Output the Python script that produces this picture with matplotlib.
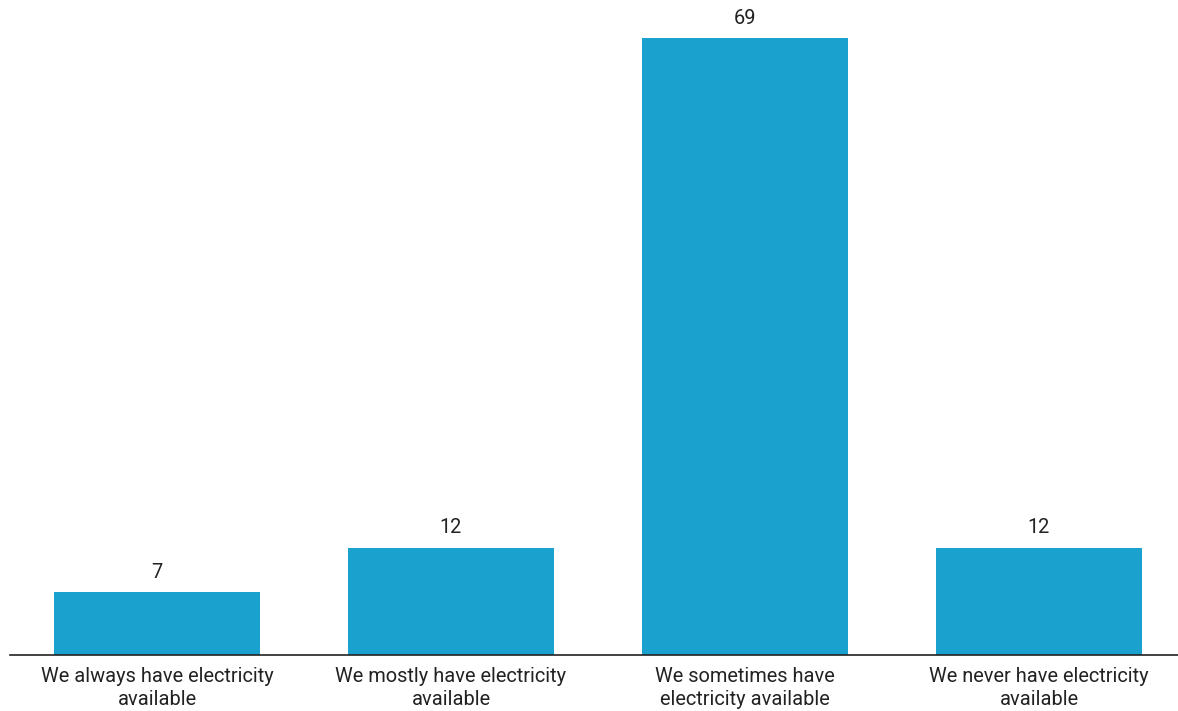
import matplotlib
matplotlib.use('Agg')
import matplotlib.pyplot as plt

categories = ['We always have electricity\navailable',
              'We mostly have electricity\navailable',
              'We sometimes have\nelectricity available',
              'We never have electricity\navailable']
values = [7, 12, 69, 12]

plt.rcParams['font.family'] = ['Roboto', 'DejaVu Sans']

fig = plt.figure(figsize=(11.78, 7.11), dpi=100)
ax = fig.add_axes([10 / 1178, 56 / 711, 1168 / 1178, 655 / 711])

x = list(range(len(values)))
bars = ax.bar(x, values, width=0.70, color='#1aa1ce')

# value labels above the bars
for xi, v in zip(x, values):
    ax.text(xi, v + 1.2, str(v), ha='center', va='bottom', fontsize=14.4, color='#222222')

ax.set_xlim(-0.5, 3.473)
ax.set_ylim(0, 73.3)
ax.set_xticks(x)
ax.set_xticklabels(categories, fontsize=14.4, color='#222222', linespacing=1.25)
ax.tick_params(axis='x', length=0, pad=9)
ax.set_yticks([])
for side in ['top', 'right', 'left']:
    ax.spines[side].set_visible(False)
ax.spines['bottom'].set_color('#222222')
ax.spines['bottom'].set_linewidth(1.2)

plt.savefig('out.png', dpi=100)
